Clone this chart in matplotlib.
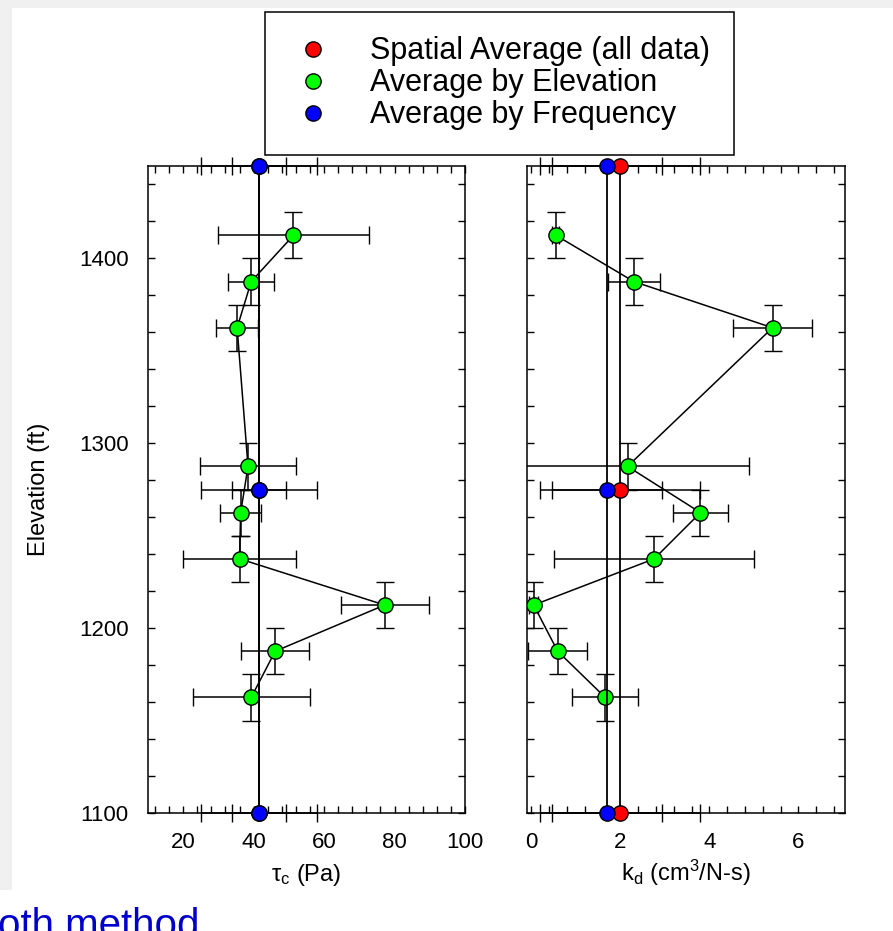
import matplotlib
matplotlib.use("Agg")
import matplotlib.pyplot as plt
from matplotlib.lines import Line2D
from matplotlib.patches import Rectangle
from matplotlib.ticker import MultipleLocator

plt.rcParams['font.family'] = ['Liberation Sans', 'DejaVu Sans']
plt.rcParams['mathtext.fontset'] = 'custom'
plt.rcParams['mathtext.rm'] = 'Liberation Sans'
plt.rcParams['mathtext.it'] = 'Liberation Sans'

# ---- data ----
elev = [1412.5, 1387.5, 1362.5, 1287.5, 1262.5, 1237.5, 1212.5, 1187.5, 1162.5]
elev_err = [12.5] * 9
tau = [51.3, 39.3, 35.3, 38.4, 36.3, 36.0, 77.2, 46.1, 39.3]
tau_err = [21.5, 6.6, 5.9, 13.6, 5.8, 16.0, 12.5, 9.6, 16.6]
kd = [0.55, 2.30, 5.42, 2.16, 3.80, 2.76, 0.05, 0.59, 1.66]
kd_err = [0.08, 0.58, 0.89, 2.73, 0.62, 2.25, 0.10, 0.66, 0.74]

avg_elev = [1100, 1275, 1450]
tau_spatial, tau_spatial_err = 41.5, 16.5
tau_freq, tau_freq_err = 41.5, 7.7
kd_spatial, kd_spatial_err = 2.0, 1.8
kd_freq, kd_freq_err = 1.70, 1.23

legend_labels = ['Spatial Average (all data)', 'Average by Elevation', 'Average by Frequency']
colors = ['#ff0000', '#00ff00', '#0000ff']

W, H = 893, 931
fig = plt.figure(figsize=(W / 100, H / 100), dpi=100, facecolor='white')

# grey screenshot strips
fig.patches.append(Rectangle((0, 1 - 8 / H), 1, 8 / H, transform=fig.transFigure,
                             facecolor='#f0f0f0', edgecolor='none', zorder=-10))
fig.patches.append(Rectangle((0, 1 - 890 / H), 12 / W, 890 / H, transform=fig.transFigure,
                             facecolor='#f0f0f0', edgecolor='none', zorder=-10))


def px_axes(x0, x1, y0, y1):
    return fig.add_axes([x0 / W, 1 - y1 / H, (x1 - x0) / W, (y1 - y0) / H])


ax1 = px_axes(148, 465, 166, 813)
ax2 = px_axes(527, 845, 166, 813)

ms = 11
mew = 1.0
cap = 6.5
elw = 1.1

for ax, vals, errs, sp, sp_e, fr, fr_e in [
        (ax1, tau, tau_err, tau_spatial, tau_spatial_err, tau_freq, tau_freq_err),
        (ax2, kd, kd_err, kd_spatial, kd_spatial_err, kd_freq, kd_freq_err)]:
    ax.errorbar(vals, elev, xerr=errs, yerr=elev_err, fmt='o-', color='black',
                lw=1.1, elinewidth=elw, capsize=cap, capthick=elw,
                mfc=colors[1], mec='black', ms=ms, mew=mew, zorder=3)
    for v, e, c in [(sp, sp_e, colors[0]), (fr, fr_e, colors[2])]:
        cont = ax.errorbar([v] * 3, avg_elev, xerr=[e] * 3, fmt='o-', color='black',
                           lw=1.3, elinewidth=elw, capsize=cap, capthick=elw,
                           mfc=c, mec='black', ms=ms, mew=mew, zorder=4)
        for art in cont.get_children():
            art.set_clip_on(False)
    ax.set_ylim(1100, 1450)
    ax.yaxis.set_major_locator(MultipleLocator(100))
    ax.yaxis.set_minor_locator(MultipleLocator(20))
    ax.tick_params(which='both', direction='in', top=True, right=True,
                   length=5, width=1.0, labelsize=16, pad=14)
    for s in ax.spines.values():
        s.set_linewidth(1.1)

ax1.set_xlim(10, 100)
ax1.xaxis.set_major_locator(MultipleLocator(20))
ax1.xaxis.set_minor_locator(MultipleLocator(4))
ax1.set_ylabel('Elevation (ft)', fontsize=17, labelpad=21)
ax1.set_xlabel('τ$_\\mathrm{c}$ (Pa)', fontsize=17, labelpad=6)

ax2.set_xlim(-0.1, 7.05)
ax2.xaxis.set_major_locator(MultipleLocator(2))
ax2.xaxis.set_minor_locator(MultipleLocator(0.4))
ax2.tick_params(axis='y', labelleft=False)
ax2.set_xlabel('k$_\\mathrm{d}$ (cm$^\\mathrm{3}$/N-s)', fontsize=17, labelpad=3)

handles = [Line2D([], [], ls='none', marker='o', mfc=c, mec='black', ms=ms, mew=mew)
           for c in [colors[0], colors[1], colors[2]]]
leg = fig.legend(handles, legend_labels, loc='upper left',
                 bbox_to_anchor=(265 / W, 1 - 12 / H), fontsize=22,
                 frameon=True, fancybox=False, edgecolor='black', framealpha=1,
                 labelspacing=0.065, handletextpad=1.1, borderpad=0.8,
                 handlelength=1.53, borderaxespad=0)
leg.get_frame().set_linewidth(1.1)

fig.text(-2 / W, -6 / H, 'oth method', color='#0000cc', fontsize=29,
         ha='left', va='baseline')

fig.savefig('out.png', dpi=100, facecolor=fig.get_facecolor())
